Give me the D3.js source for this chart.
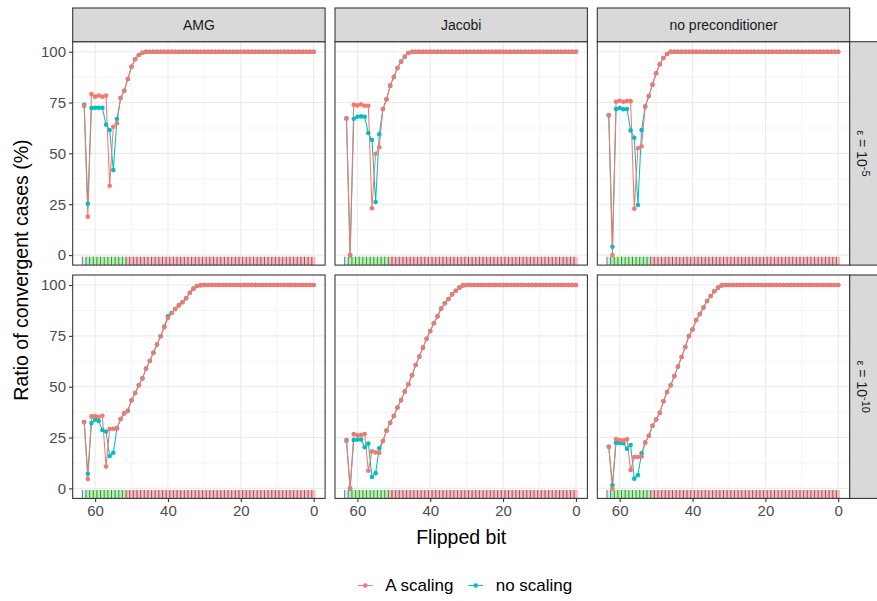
<!DOCTYPE html>
<html>
<head>
<meta charset="utf-8">
<script src="https://cdn.jsdelivr.net/npm/d3@7"></script>
<style>
  body { margin: 0; background: #fff; }
  text { font-family: "Liberation Sans", Arial, sans-serif; }
</style>
</head>
<body>
<svg id="plot"></svg>
<script>
// facets
const methods = ["AMG", "Jacobi", "no preconditioner"];
const tolExponents = ["-5", "-10"];
const seriesNames = ["A scaling", "no scaling"];
const seriesColors = ["#F8766D", "#00BFC4"];

// flipped bit, same order as the value arrays (63 first, 0 last)
const bits = d3.range(63, -1, -1);

// ratio of convergent cases (%), eps = 1e-5
const amgE5A = [73.3, 18.9, 79.2, 77.9, 78.5, 77.9, 78.4, 34.1, 63.1, 64.8, 77.2, 80.8, 86.6, 92.6, 96.3, 98.4, 99.5,
  100, 100, 100, 100, 100, 100, 100, 100, 100, 100,
  100, 100, 100, 100, 100, 100, 100, 100, 100, 100,
  100, 100, 100, 100, 100, 100, 100, 100, 100, 100,
  100, 100, 100, 100, 100, 100, 100, 100, 100, 100,
  100, 100, 100, 100, 100, 100, 100];
const amgE5N = [73.9, 25.2, 72.3, 72.4, 72.4, 72.4, 64.1, 61.5, 41.8, 66.9, 77.2, 80.8, 86.6, 92.6, 96.3, 98.4, 99.5,
  100, 100, 100, 100, 100, 100, 100, 100, 100, 100,
  100, 100, 100, 100, 100, 100, 100, 100, 100, 100,
  100, 100, 100, 100, 100, 100, 100, 100, 100, 100,
  100, 100, 100, 100, 100, 100, 100, 100, 100, 100,
  100, 100, 100, 100, 100, 100, 100];
const jacE5A = [67.2, 0, 73.9, 73.6, 74.1, 73.4, 73.4, 23.0, 49.8, 53.0, 71.8, 76.6, 83.3, 87.6, 92.0, 95.1, 97.5, 99.4,
  100, 100, 100, 100, 100, 100, 100, 100, 100, 100,
  100, 100, 100, 100, 100, 100, 100, 100, 100, 100,
  100, 100, 100, 100, 100, 100, 100, 100, 100, 100,
  100, 100, 100, 100, 100, 100, 100, 100, 100, 100,
  100, 100, 100, 100, 100, 100];
const jacE5N = [67.2, 0, 67.0, 68.0, 68.2, 68.0, 60.0, 56.6, 26.1, 59.4, 71.8, 76.6, 83.3, 87.6, 92.0, 95.1, 97.5, 99.4,
  100, 100, 100, 100, 100, 100, 100, 100, 100, 100,
  100, 100, 100, 100, 100, 100, 100, 100, 100, 100,
  100, 100, 100, 100, 100, 100, 100, 100, 100, 100,
  100, 100, 100, 100, 100, 100, 100, 100, 100, 100,
  100, 100, 100, 100, 100, 100];
const noneE5A = [68.7, 0, 75.4, 75.9, 75.4, 75.7, 75.7, 22.8, 52.5, 53.5, 73.0, 78.2, 83.8, 89.4, 93.8, 96.9, 98.9, 99.9,
  100, 100, 100, 100, 100, 100, 100, 100, 100, 100,
  100, 100, 100, 100, 100, 100, 100, 100, 100, 100,
  100, 100, 100, 100, 100, 100, 100, 100, 100, 100,
  100, 100, 100, 100, 100, 100, 100, 100, 100, 100,
  100, 100, 100, 100, 100, 100];
const noneE5N = [68.7, 4.1, 71.8, 72.3, 71.7, 71.8, 61.3, 57.7, 24.6, 61.5, 73.0, 78.2, 83.8, 89.4, 93.8, 96.9, 98.9, 99.9,
  100, 100, 100, 100, 100, 100, 100, 100, 100, 100,
  100, 100, 100, 100, 100, 100, 100, 100, 100, 100,
  100, 100, 100, 100, 100, 100, 100, 100, 100, 100,
  100, 100, 100, 100, 100, 100, 100, 100, 100, 100,
  100, 100, 100, 100, 100, 100];

// eps = 1e-10
const amgE10A = [32.6, 4.6, 35.4, 35.6, 35.1, 35.7, 10.8, 29.2, 29.3, 29.5, 34.1, 36.9, 38.2, 43.3, 46.9, 50.7, 54.1,
  58.9, 62.6, 66.7, 70.7, 74.8, 79.2, 83.8, 86.2, 88.2, 90.0, 91.5, 93.5, 96.2, 98.2, 99.5, 99.9,
  100, 100, 100, 100, 100, 100, 100, 100, 100, 100,
  100, 100, 100, 100, 100, 100, 100, 100, 100, 100,
  100, 100, 100, 100, 100, 100, 100, 100, 100, 100,
  100];
const amgE10N = [32.6, 7.2, 32.1, 33.8, 33.1, 28.7, 28.0, 15.9, 17.5, 29.5, 34.1, 36.9, 38.2, 43.3, 46.9, 50.7, 54.1,
  58.9, 62.6, 66.7, 70.7, 74.8, 79.6, 84.6, 86.2, 88.2, 90.0, 91.5, 93.5, 96.2, 98.2, 99.5, 99.9,
  100, 100, 100, 100, 100, 100, 100, 100, 100, 100,
  100, 100, 100, 100, 100, 100, 100, 100, 100, 100,
  100, 100, 100, 100, 100, 100, 100, 100, 100, 100,
  100];
const jacE10A = [23.3, 0, 26.7, 26.1, 26.2, 26.7, 8.7, 18.2, 17.7, 17.5, 23.3, 28.4, 32.3, 35.6, 39.8, 43.4, 47.6,
  51.2, 55.6, 60.7, 64.8, 69.2, 73.6, 77.4, 81.2, 84.6, 88.4, 91.0, 93.1, 95.4, 97.2, 98.7, 99.8,
  100, 100, 100, 100, 100, 100, 100, 100, 100, 100,
  100, 100, 100, 100, 100, 100, 100, 100, 100, 100,
  100, 100, 100, 100, 100, 100, 100, 100, 100, 100,
  100];
const jacE10N = [23.8, 0, 23.8, 24.0, 24.0, 20.2, 22.1, 5.6, 7.5, 19.7, 23.3, 28.4, 32.3, 35.6, 39.8, 43.4, 47.6,
  51.2, 55.6, 60.7, 64.8, 69.2, 73.6, 77.4, 81.2, 84.6, 88.4, 91.0, 93.1, 95.4, 97.2, 98.7, 99.8,
  100, 100, 100, 100, 100, 100, 100, 100, 100, 100,
  100, 100, 100, 100, 100, 100, 100, 100, 100, 100,
  100, 100, 100, 100, 100, 100, 100, 100, 100, 100,
  100];
const noneE10A = [20.5, 0, 24.3, 23.8, 23.6, 24.1, 9.0, 15.4, 15.4, 15.7, 22.5, 25.9, 30.8, 33.9, 37.2, 42.8, 47.4,
  50.7, 55.2, 59.9, 64.6, 69.5, 74.9, 78.1, 82.8, 85.7, 88.9, 92.1, 94.6, 96.9, 98.7, 99.8,
  100, 100, 100, 100, 100, 100, 100, 100, 100, 100,
  100, 100, 100, 100, 100, 100, 100, 100, 100, 100,
  100, 100, 100, 100, 100, 100, 100, 100, 100, 100,
  100, 100];
const noneE10N = [20.5, 1.6, 22.5, 22.3, 22.2, 19.5, 21.3, 4.8, 6.5, 17.2, 22.5, 25.9, 30.8, 33.9, 37.2, 42.8, 47.4,
  50.7, 55.2, 59.9, 64.6, 69.5, 74.9, 78.1, 82.8, 85.7, 88.9, 92.1, 94.6, 96.9, 98.7, 99.8,
  100, 100, 100, 100, 100, 100, 100, 100, 100, 100,
  100, 100, 100, 100, 100, 100, 100, 100, 100, 100,
  100, 100, 100, 100, 100, 100, 100, 100, 100, 100,
  100, 100];

// rows = tolerance, cols = method, each [A scaling, no scaling]
const panelData = [
  [[amgE5A, amgE5N], [jacE5A, jacE5N], [noneE5A, noneE5N]],
  [[amgE10A, amgE10N], [jacE10A, jacE10N], [noneE10A, noneE10N]]
];

// IEEE double bit fields for the strip under each panel
const fieldNames = ["sign", "exponent", "mantissa"];
const fieldHigh = [63, 62, 51];
const fieldLow = [63, 52, 0];
const fieldColors = ["#C6F1FF", "#A8F9A8", "#FFB6BE"];

const xTicks = [60, 40, 20, 0];
const xMinor = [50, 30, 10];
const yTicks = [0, 25, 50, 75, 100];
const yMinor = [12.5, 37.5, 62.5, 87.5];

const svg = d3.select("#plot").attr("width", 877).attr("height", 601);

const panelW = 252.4, panelH = 223.4;
const panelLeft = [72.7, 335.0, 597.3];
const panelTop = [41.7, 275.0];
const stripH = 33.7;
const tickFont = "15px", stripFont = "14px", titleFont = "19.5px";

const x = d3.scaleLinear().domain([66.15, -3.15]).range([0, panelW]);
const y = d3.scaleLinear().domain([-4.92, 104.92]).range([panelH, 0]);

const fieldOf = b => fieldNames.findIndex((f, i) => b <= fieldHigh[i] && b >= fieldLow[i]);

const line = d3.line()
  .x(d => x(d.bit))
  .y(d => y(d.v));

panelData.forEach(function (row, r) {
  row.forEach(function (pair, c) {
    const g = svg.append("g")
      .attr("transform", `translate(${panelLeft[c]}, ${panelTop[r]})`);

    const clipId = `clip-${r}-${c}`;
    g.append("clipPath").attr("id", clipId)
      .append("rect").attr("width", panelW).attr("height", panelH);

    g.append("rect").attr("width", panelW).attr("height", panelH).attr("fill", "#fff");

    // grid
    g.selectAll(".minor-x").data(xMinor).enter().append("line")
      .attr("x1", d => x(d)).attr("x2", d => x(d)).attr("y1", 0).attr("y2", panelH)
      .attr("stroke", "#EBEBEB").attr("stroke-width", 0.55);
    g.selectAll(".minor-y").data(yMinor).enter().append("line")
      .attr("y1", d => y(d)).attr("y2", d => y(d)).attr("x1", 0).attr("x2", panelW)
      .attr("stroke", "#EBEBEB").attr("stroke-width", 0.55);
    g.selectAll(".major-x").data(xTicks).enter().append("line")
      .attr("x1", d => x(d)).attr("x2", d => x(d)).attr("y1", 0).attr("y2", panelH)
      .attr("stroke", "#EBEBEB").attr("stroke-width", 1.1);
    g.selectAll(".major-y").data(yTicks).enter().append("line")
      .attr("y1", d => y(d)).attr("y2", d => y(d)).attr("x1", 0).attr("x2", panelW)
      .attr("stroke", "#EBEBEB").attr("stroke-width", 1.1);

    const inner = g.append("g").attr("clip-path", `url(#${clipId})`);

    // bit field strip
    inner.selectAll(".bitcell").data(bits).enter().append("rect")
      .attr("x", b => x(b + 0.5))
      .attr("width", b => x(b - 0.5) - x(b + 0.5))
      .attr("y", y(-0.8))
      .attr("height", y(-5) - y(-0.8))
      .attr("fill", b => fieldColors[fieldOf(b)]);
    inner.selectAll(".bitedge").data(bits).enter().append("line")
      .attr("x1", b => x(b + 0.5)).attr("x2", b => x(b + 0.5))
      .attr("y1", y(-0.8)).attr("y2", y(-5))
      .attr("stroke", "#000")
      .attr("stroke-opacity", 0.85)
      .attr("stroke-width", 0.6);

    const series = pair.map((vals, s) => ({
      s: s,
      pts: bits.map((b, i) => ({ bit: b, v: vals[i] }))
    }));
    // no scaling underneath, A scaling on top
    const order = [series[1], series[0]];

    order.forEach(function (sr) {
      inner.append("path")
        .datum(sr.pts)
        .attr("d", line)
        .attr("fill", "none")
        .attr("stroke", seriesColors[sr.s])
        .attr("stroke-width", 1.05);
    });
    order.forEach(function (sr) {
      inner.selectAll(null).data(sr.pts).enter().append("circle")
        .attr("cx", d => x(d.bit))
        .attr("cy", d => y(d.v))
        .attr("r", 2.3)
        .attr("fill", seriesColors[sr.s]);
    });

    // panel border
    g.append("rect").attr("width", panelW).attr("height", panelH)
      .attr("fill", "none").attr("stroke", "#333").attr("stroke-width", 1.07);

    // y axis on left column
    if (c === 0) {
      const ya = g.append("g").call(d3.axisLeft(y).tickValues(yTicks).tickSize(3.7).tickPadding(3));
      ya.select(".domain").remove();
      ya.selectAll("line").attr("stroke", "#333").attr("stroke-width", 1.07);
      ya.selectAll("text").attr("fill", "#4D4D4D").style("font-size", tickFont)
        .style("font-family", "'Liberation Sans', Arial, sans-serif");
    }
    // x axis on bottom row
    if (r === 1) {
      const xa = g.append("g").attr("transform", `translate(0, ${panelH})`)
        .call(d3.axisBottom(x).tickValues(xTicks).tickSize(3.7).tickPadding(3));
      xa.select(".domain").remove();
      xa.selectAll("line").attr("stroke", "#333").attr("stroke-width", 1.07);
      xa.selectAll("text").attr("fill", "#4D4D4D").style("font-size", tickFont)
        .style("font-family", "'Liberation Sans', Arial, sans-serif");
    }
  });
});

// top strips
methods.forEach(function (m, c) {
  svg.append("rect")
    .attr("x", panelLeft[c]).attr("y", panelTop[0] - stripH)
    .attr("width", panelW).attr("height", stripH)
    .attr("fill", "#D9D9D9").attr("stroke", "#333").attr("stroke-width", 1.07);
  svg.append("text")
    .attr("x", panelLeft[c] + panelW / 2).attr("y", panelTop[0] - stripH / 2)
    .attr("dy", "0.35em").attr("text-anchor", "middle")
    .attr("fill", "#1A1A1A").style("font-size", stripFont)
    .text(m);
});

// right strips
tolExponents.forEach(function (e, r) {
  const sx = panelLeft[2] + panelW;
  svg.append("rect")
    .attr("x", sx).attr("y", panelTop[r])
    .attr("width", stripH).attr("height", panelH)
    .attr("fill", "#D9D9D9").attr("stroke", "#333").attr("stroke-width", 1.07);
  const t = svg.append("text")
    .attr("transform", `translate(${sx + stripH / 2 - 10}, ${panelTop[r] + panelH / 2}) rotate(90)`)
    .attr("text-anchor", "middle")
    .attr("fill", "#1A1A1A").style("font-size", stripFont);
  t.append("tspan").style("font-size", "11px").text("ε");
  t.append("tspan").text(" = 10");
  t.append("tspan").attr("dy", "-0.5em").style("font-size", "11px").text(e);
});

// axis titles
svg.append("text")
  .attr("transform", `translate(21, ${panelTop[0] + (panelTop[1] + panelH - panelTop[0]) / 2}) rotate(-90)`)
  .attr("text-anchor", "middle").attr("dy", "0.35em")
  .attr("fill", "#000").style("font-size", titleFont)
  .text("Ratio of convergent cases (%)");

svg.append("text")
  .attr("x", panelLeft[0] + (panelLeft[2] + panelW - panelLeft[0]) / 2)
  .attr("y", 537).attr("dy", "0.35em")
  .attr("text-anchor", "middle")
  .attr("fill", "#000").style("font-size", titleFont)
  .text("Flipped bit");

// legend
const legendKeyX = [365.3, 475.7];
seriesNames.forEach(function (name, s) {
  const lg = svg.append("g").attr("transform", `translate(${legendKeyX[s]}, 585.5)`);
  lg.append("line").attr("x1", -7.3).attr("x2", 7.3)
    .attr("stroke", seriesColors[s]).attr("stroke-width", 1.05);
  lg.append("circle").attr("r", 2.3).attr("fill", seriesColors[s]);
  lg.append("text").attr("x", 20).attr("dy", "0.35em")
    .attr("fill", "#000").style("font-size", "17px")
    .text(name);
});
</script>
</body>
</html>
